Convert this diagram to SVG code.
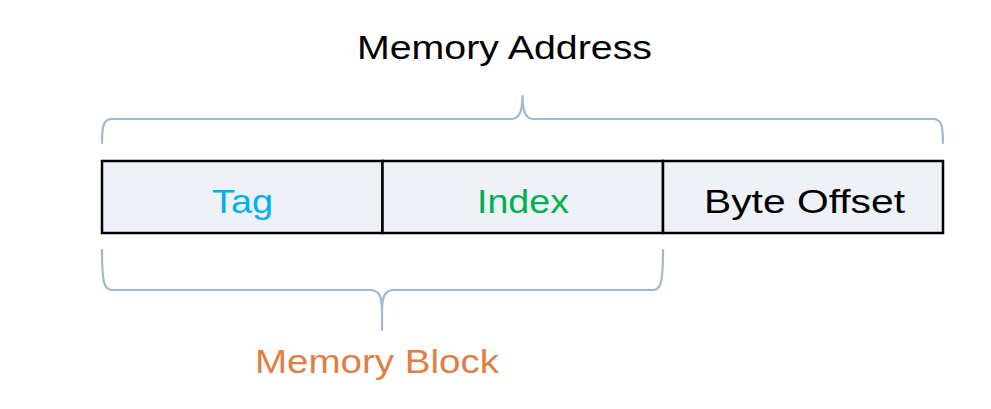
<svg xmlns="http://www.w3.org/2000/svg" width="991" height="409" viewBox="0 0 991 409">
<style>
.lbl{font-family:"Liberation Sans","DejaVu Sans",sans-serif;font-size:34px;text-anchor:start}
.cell{fill:#EEF2F7;stroke:#000;stroke-width:2.5}
.brace{fill:none;stroke:#9CB9D6;stroke-width:2.2;stroke-linejoin:round;stroke-linecap:round}
</style>
<rect width="991" height="409" fill="#fff"/>
<g id="title"><text class="lbl" x="357" y="59" textLength="295" lengthAdjust="spacingAndGlyphs" fill="#000">Memory Address</text></g>
<g id="connectors">
<path class="brace" d="M102,143 C102,125 104,119 112,119 L511,119 C518,119 522.5,114 522.5,96 C522.5,114 527,119 534,119 L933,119 C941,119 943,125 943,143"/>
<path class="brace" d="M102,250 C102,282 104,290 112,290 L370,290 C378,290 382,295 382,310 L382,330 L382,310 C382,295 386,290 394,290 L653,290 C661,290 663,282 663,250"/>
</g>
<g id="tag"><rect class="cell" x="102" y="161" width="280.5" height="72"/><text class="lbl" x="212" y="213" textLength="61" lengthAdjust="spacingAndGlyphs" fill="#00B0F0">Tag</text></g>
<g id="index"><rect class="cell" x="382.5" y="161" width="280.5" height="72"/><text class="lbl" x="477" y="213" textLength="92" lengthAdjust="spacingAndGlyphs" fill="#00B050">Index</text></g>
<g id="offset"><rect class="cell" x="663" y="161" width="280" height="72"/><text class="lbl" x="704" y="213" textLength="201" lengthAdjust="spacingAndGlyphs" fill="#000">Byte Offset</text></g>
<g id="block"><text class="lbl" x="255" y="373" textLength="244" lengthAdjust="spacingAndGlyphs" fill="#E07E45">Memory Block</text></g>
</svg>
